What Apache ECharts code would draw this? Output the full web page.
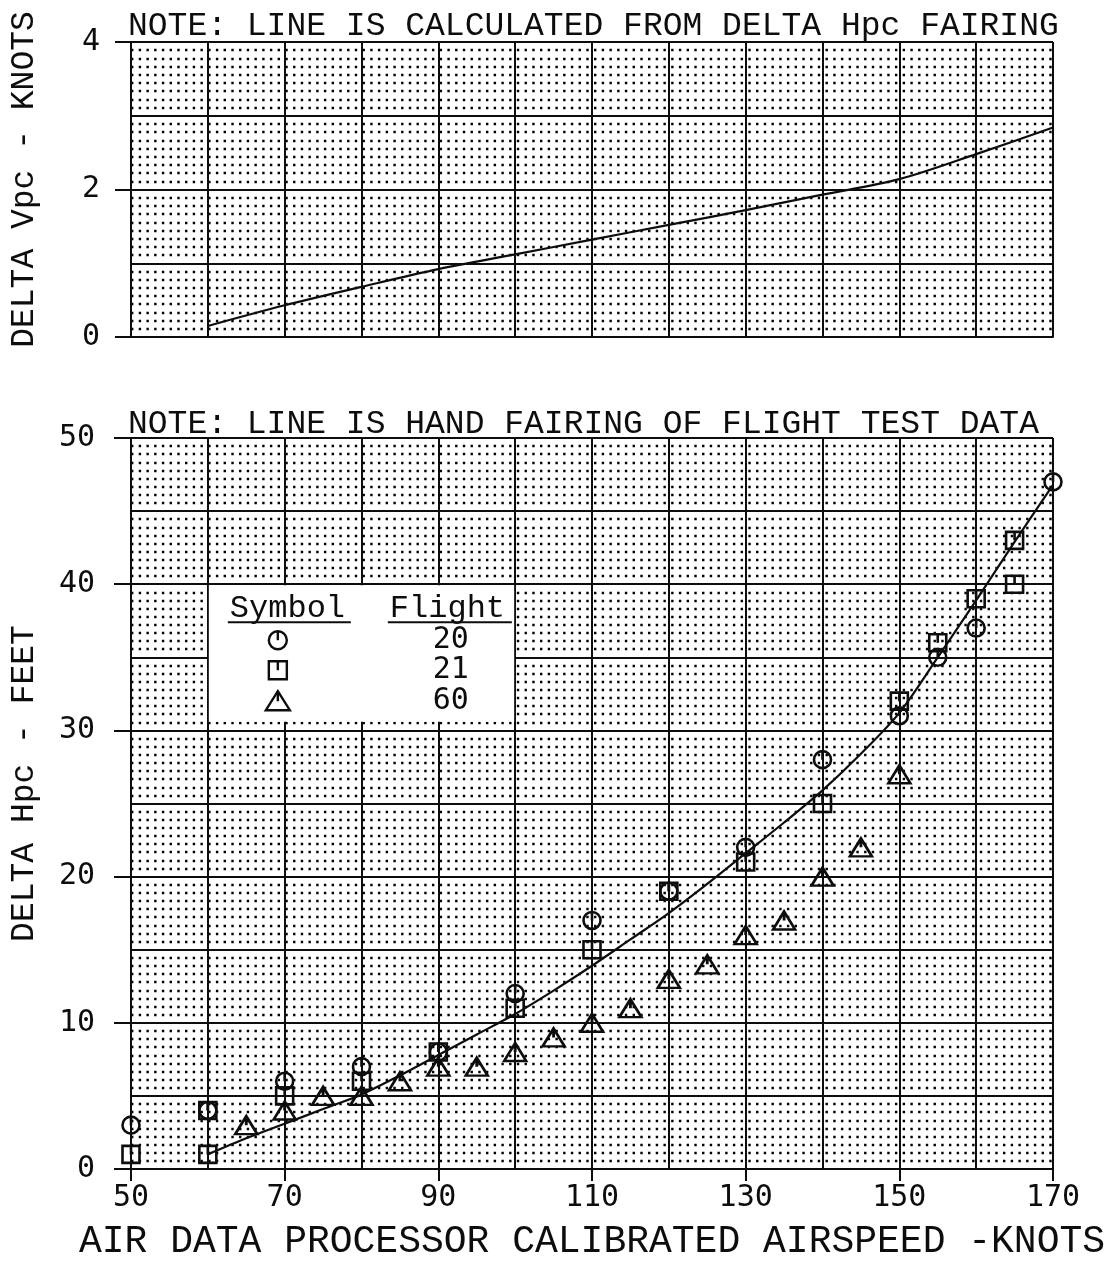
<!DOCTYPE html>
<html>
<head>
<meta charset="utf-8">
<script src="https://cdn.jsdelivr.net/npm/echarts@6/dist/echarts.min.js"></script>
<style>
	html, body { margin: 0; padding: 0; background: #ffffff; }
	#chart { width: 1110px; height: 1268px; }
</style>
</head>
<body>
<div id="chart"></div>
<script type="text/javascript">
var INK = '#0d0d0d';
var TXT = 'Liberation Mono';
var NUM = 'DejaVu Sans Mono';

// top panel - delta Vpc calculated from the Hpc fairing
var vpcSpeed = [60, 70, 80, 90, 100, 110, 120, 130, 140, 150, 160, 170];
var vpcDelta = [0.15, 0.43, 0.68, 0.92, 1.12, 1.32, 1.52, 1.72, 1.93, 2.14, 2.48, 2.84];

// bottom panel - hand fairing
var fairSpeed = [60, 65, 70, 75, 80, 85, 90, 95, 100, 105, 110, 115, 120, 125, 130, 135, 140, 145, 150, 155, 160, 165, 170];
var fairHpc = [1.0, 2.1, 3.1, 4.1, 5.1, 6.4, 7.8, 9.2, 10.6, 12.2, 13.9, 15.7, 17.5, 19.5, 21.6, 23.7, 25.9, 28.4, 31.2, 35.0, 38.9, 42.9, 46.8];

// flight test points [airspeed, delta Hpc]
var flight20 = [[50, 3], [60, 4], [70, 6], [80, 7], [90, 8], [100, 12], [110, 17], [120, 19], [130, 22], [140, 28], [150, 31], [155, 35], [160, 37], [170, 47]];
var flight21 = [[50, 1], [60, 1], [60, 4], [70, 5], [80, 6], [90, 8], [100, 11], [110, 15], [120, 19], [130, 21], [140, 25], [150, 32], [155, 36], [160, 39], [165, 43], [165, 40]];
var flight60 = [[65, 3], [70, 4], [75, 5], [80, 5], [85, 6], [90, 7], [95, 7], [100, 8], [105, 9], [110, 10], [115, 11], [120, 13], [125, 14], [130, 16], [135, 17], [140, 20], [145, 22], [150, 27]];

var flights = ['20', '21', '60'];

var SYM_CIRCLE = 'path://M10,0A10,10,0,1,1,10,20A10,10,0,1,1,10,0ZM10,0L10,10';
var SYM_SQUARE = 'path://M0,0L20,0L20,20L0,20ZM10,0L10,10';
var SYM_TRI = 'path://M11,0L22,18L0,18ZM11,0L11,9';

var GRID_W = 1110 - 127 - 57;
var dotStep = GRID_W / 120;
var dotLine = { color: '#000', width: 2.4, type: [2.4, dotStep - 2.4] };
var gridLine = { color: INK, width: 2 };

function gridAxis(idx, min, max, step, split) {
	return {
		type: 'value', gridIndex: idx, min: min, max: max, interval: step,
		axisLine: { show: true, lineStyle: gridLine },
		axisTick: { show: false },
		axisLabel: { show: false },
		splitLine: { show: true, lineStyle: gridLine },
		minorTick: { show: false, splitNumber: split || 5 },
		minorSplitLine: { show: !!split, lineStyle: dotLine }
	};
}

// scatter defaults to 0.8 opacity, the plotter marks are solid black
var symStyle = { color: 'rgba(0,0,0,0)', borderColor: INK, borderWidth: 2.6, opacity: 1 };

var option = {
	backgroundColor: '#ffffff',
	animation: false,
	title: [
		{ text: 'NOTE: LINE IS CALCULATED FROM DELTA Hpc FAIRING', left: 128, top: 10, padding: 0,
		  textStyle: { fontFamily: TXT, fontSize: 33, fontWeight: 'normal', color: INK } },
		{ text: 'NOTE: LINE IS HAND FAIRING OF FLIGHT TEST DATA', left: 128, top: 408, padding: 0,
		  textStyle: { fontFamily: TXT, fontSize: 33, fontWeight: 'normal', color: INK } }
	],
	grid: [
		{ left: 127, right: 57, top: 42, height: 295 },
		{ left: 127, right: 57, top: 438, height: 731 }
	],
	xAxis: [
		gridAxis(0, 50, 170, 10),
		gridAxis(1, 50, 170, 10),
		{
			type: 'value', gridIndex: 1, min: 50, max: 170, interval: 20, position: 'bottom',
			axisLine: { show: false },
			axisTick: { show: true, length: 12, lineStyle: gridLine },
			axisLabel: { margin: 14, fontFamily: NUM, fontSize: 30, color: INK },
			splitLine: { show: false },
			name: 'AIR DATA PROCESSOR CALIBRATED AIRSPEED -KNOTS',
			nameLocation: 'middle', nameGap: 54,
			nameTextStyle: { fontFamily: TXT, fontSize: 38, color: INK }
		}
	],
	yAxis: [
		gridAxis(0, 0, 4, 1, 9),
		{
			type: 'value', gridIndex: 0, min: 0, max: 4, interval: 2, position: 'left',
			axisLine: { show: false },
			axisTick: { show: true, length: 16, lineStyle: gridLine },
			axisLabel: { margin: 31, fontFamily: NUM, fontSize: 30, color: INK },
			splitLine: { show: false },
			name: 'DELTA Vpc - KNOTS', nameLocation: 'middle', nameRotate: 90, nameGap: 90,
			nameTextStyle: { fontFamily: TXT, fontSize: 33, color: INK, padding: [0, 0, 0, 20] }
		},
		gridAxis(1, 0, 50, 5, 9),
		{
			type: 'value', gridIndex: 1, min: 0, max: 50, interval: 10, position: 'left',
			axisLine: { show: false },
			axisTick: { show: true, length: 17, lineStyle: gridLine },
			axisLabel: { margin: 36, fontFamily: NUM, fontSize: 30, color: INK },
			splitLine: { show: false },
			name: 'DELTA Hpc - FEET', nameLocation: 'middle', nameRotate: 90, nameGap: 90,
			nameTextStyle: { fontFamily: TXT, fontSize: 33, color: INK, padding: [0, 0, 0, 40] }
		}
	],
	series: [
		{
			type: 'line', xAxisIndex: 0, yAxisIndex: 0, smooth: 0.3, symbol: 'none',
			lineStyle: { color: INK, width: 2.2 },
			data: vpcSpeed.map(function (s, i) { return [s, vpcDelta[i]]; })
		},
		{
			type: 'line', xAxisIndex: 1, yAxisIndex: 2, smooth: 0.3, symbol: 'none',
			lineStyle: { color: INK, width: 2.2 },
			data: fairSpeed.map(function (s, i) { return [s, fairHpc[i]]; })
		},
		{ type: 'scatter', name: flights[0], xAxisIndex: 1, yAxisIndex: 2, symbol: SYM_CIRCLE, symbolSize: 17, itemStyle: symStyle, data: flight20 },
		{ type: 'scatter', name: flights[1], xAxisIndex: 1, yAxisIndex: 2, symbol: SYM_SQUARE, symbolSize: 17, itemStyle: symStyle, data: flight21 },
		{ type: 'scatter', name: flights[2], xAxisIndex: 1, yAxisIndex: 2, symbol: SYM_TRI, symbolSize: [22, 18], itemStyle: symStyle, data: flight60 }
	]
};

var chart = echarts.init(document.getElementById('chart'));
chart.setOption(option);

// symbol / flight key box, anchored on the 60 kn and 40 ft grid lines
var a = chart.convertToPixel({ gridIndex: 1 }, [60, 40]);
var b = chart.convertToPixel({ gridIndex: 1 }, [100, 30.6]);
var bx = a[0], by = a[1];
var stroke = { fill: 'none', stroke: INK, lineWidth: 2.4 };
var keyEls = [
	{ type: 'rect', shape: { x: bx + 1, y: by + 1, width: b[0] - bx - 2, height: b[1] - by - 1 }, style: { fill: '#ffffff' } },
	{ type: 'text', x: bx + 22, y: by + 24, style: { text: 'Symbol', font: '32px ' + TXT, fill: INK, verticalAlign: 'middle' } },
	{ type: 'text', x: bx + 182, y: by + 24, style: { text: 'Flight', font: '32px ' + TXT, fill: INK, verticalAlign: 'middle' } },
	{ type: 'line', shape: { x1: bx + 20, y1: by + 38, x2: bx + 143, y2: by + 38 }, style: { stroke: INK, lineWidth: 2 } },
	{ type: 'line', shape: { x1: bx + 180, y1: by + 38, x2: bx + 304, y2: by + 38 }, style: { stroke: INK, lineWidth: 2 } }
];
var sx = bx + 70;
var rowY = [by + 56, by + 86, by + 117];
keyEls.push(
	{ type: 'circle', shape: { cx: sx, cy: rowY[0], r: 9 }, style: stroke },
	{ type: 'line', shape: { x1: sx, y1: rowY[0] - 9, x2: sx, y2: rowY[0] }, style: stroke },
	{ type: 'rect', shape: { x: sx - 9, y: rowY[1] - 9, width: 18, height: 18 }, style: stroke },
	{ type: 'line', shape: { x1: sx, y1: rowY[1] - 9, x2: sx, y2: rowY[1] }, style: stroke },
	{ type: 'polygon', shape: { points: [[sx, rowY[2] - 10], [sx + 12, rowY[2] + 9], [sx - 12, rowY[2] + 9]] }, style: stroke },
	{ type: 'line', shape: { x1: sx, y1: rowY[2] - 10, x2: sx, y2: rowY[2] }, style: stroke }
);
flights.forEach(function (f, i) {
	keyEls.push({ type: 'text', x: bx + 243, y: rowY[i], style: { text: f, font: '30px ' + NUM, fill: INK, align: 'center', verticalAlign: 'middle' } });
});
chart.setOption({ graphic: [{ type: 'group', z: 50, children: keyEls }] });
</script>
</body>
</html>
